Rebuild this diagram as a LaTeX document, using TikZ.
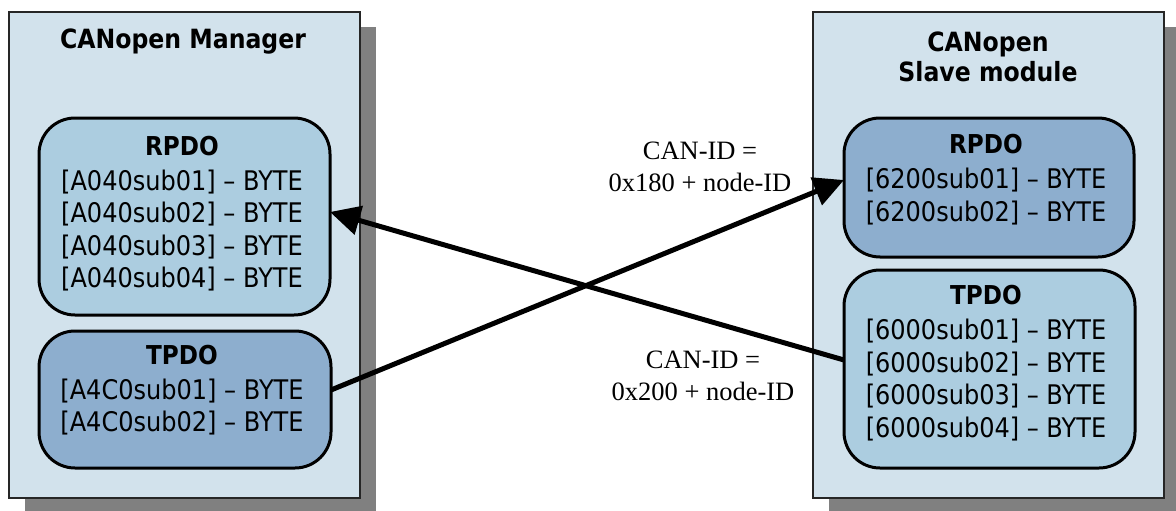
\documentclass[tikz,border=0pt]{standalone}
\usepackage{fontspec}
\newfontfamily\tah{DejaVu Sans}[FakeStretch=0.89]
\newfontfamily\tms{Liberation Serif}
\usetikzlibrary{arrows.meta}
\definecolor{panelfill}{HTML}{D2E2EC}
\definecolor{lightpdo}{HTML}{ACCDE0}
\definecolor{darkpdo}{HTML}{8DAECE}
\definecolor{shadowgray}{HTML}{808080}
\begin{document}
\begin{tikzpicture}[x=1pt,y=-1pt,
  every node/.style={inner sep=0pt, outer sep=0pt},
  shadowbox/.style={fill=shadowgray, minimum width=351pt, minimum height=486pt},
  panel/.style={draw=black!85, line width=1.3pt, fill=panelfill,
    minimum width=351pt, minimum height=486pt},
  pdobox/.style={draw=black, line width=3pt, rounded corners=36pt},
  lightbox/.style={pdobox, fill=lightpdo},
  darkbox/.style={pdobox, fill=darkpdo},
  pdotext/.style={align=center, font=\tah\fontsize{27}{32.5}\selectfont},
  titletext/.style={align=center, font=\tah\bfseries\fontsize{26.5}{30}\selectfont},
  idlabel/.style={align=center, font=\tms\fontsize{26.5}{32}\selectfont},
  conn/.style={line width=5pt, -{Triangle[length=30pt,width=29pt]}}]
\useasboundingbox (0,0) rectangle (1176,511);

% drop shadows and the two device panels
\node[shadowbox] (lshadow) at (200.5,270) {};
\node[shadowbox] (rshadow) at (1004.5,270) {};
\node[panel] (manager) at (184.5,255) {};
\node[panel] (slave) at (988.5,255) {};

\node[titletext] (mtitle) at (183,42) {CANopen Manager};
\node[titletext] (stitle) at (988,57) {CANopen\\Slave module};

% PDO boxes
\node[lightbox, minimum width=291pt, minimum height=197pt] (lr) at (184.5,216.5) {};
\node[darkbox, minimum width=292pt, minimum height=137pt] (lt) at (185,399.5) {};
\node[darkbox, minimum width=290pt, minimum height=139pt] (rr) at (989,187.5) {};
\node[lightbox, minimum width=291pt, minimum height=198pt] (rt) at (989.5,369) {};

\node[pdotext] (lrtext) at (182,213.5) {{\bfseries\fontsize{26}{30}\selectfont RPDO}\\[2.5pt]
  {[}A040sub01{]} – BYTE\\ {[}A040sub02{]} – BYTE\\ {[}A040sub03{]} – BYTE\\ {[}A040sub04{]} – BYTE};
\node[pdotext] (lttext) at (182,390) {{\bfseries\fontsize{26}{30}\selectfont TPDO}\\[2.5pt]
  {[}A4C0sub01{]} – BYTE\\ {[}A4C0sub02{]} – BYTE};
\node[pdotext] (rrtext) at (986,179.5) {{\bfseries\fontsize{26}{30}\selectfont RPDO}\\[2.5pt]
  {[}6200sub01{]} – BYTE\\ {[}6200sub02{]} – BYTE};
\node[pdotext] (rttext) at (986,363) {{\bfseries\fontsize{26}{30}\selectfont TPDO}\\[2.5pt]
  {[}6000sub01{]} – BYTE\\ {[}6000sub02{]} – BYTE\\ {[}6000sub03{]} – BYTE\\ {[}6000sub04{]} – BYTE};

% CAN identifiers
\node[idlabel] (id1) at (700,167) {CAN-ID =\\0x180 + node-ID};
\node[idlabel] (id2) at (703,376) {CAN-ID =\\0x200 + node-ID};

% PDO transfers
\draw[conn] ([yshift=9.5pt]lt.east) -- ([yshift=7.5pt]rr.west);
\draw[conn] ([yshift=9pt]rt.west) -- ([yshift=4.5pt]lr.east);
\end{tikzpicture}
\end{document}
